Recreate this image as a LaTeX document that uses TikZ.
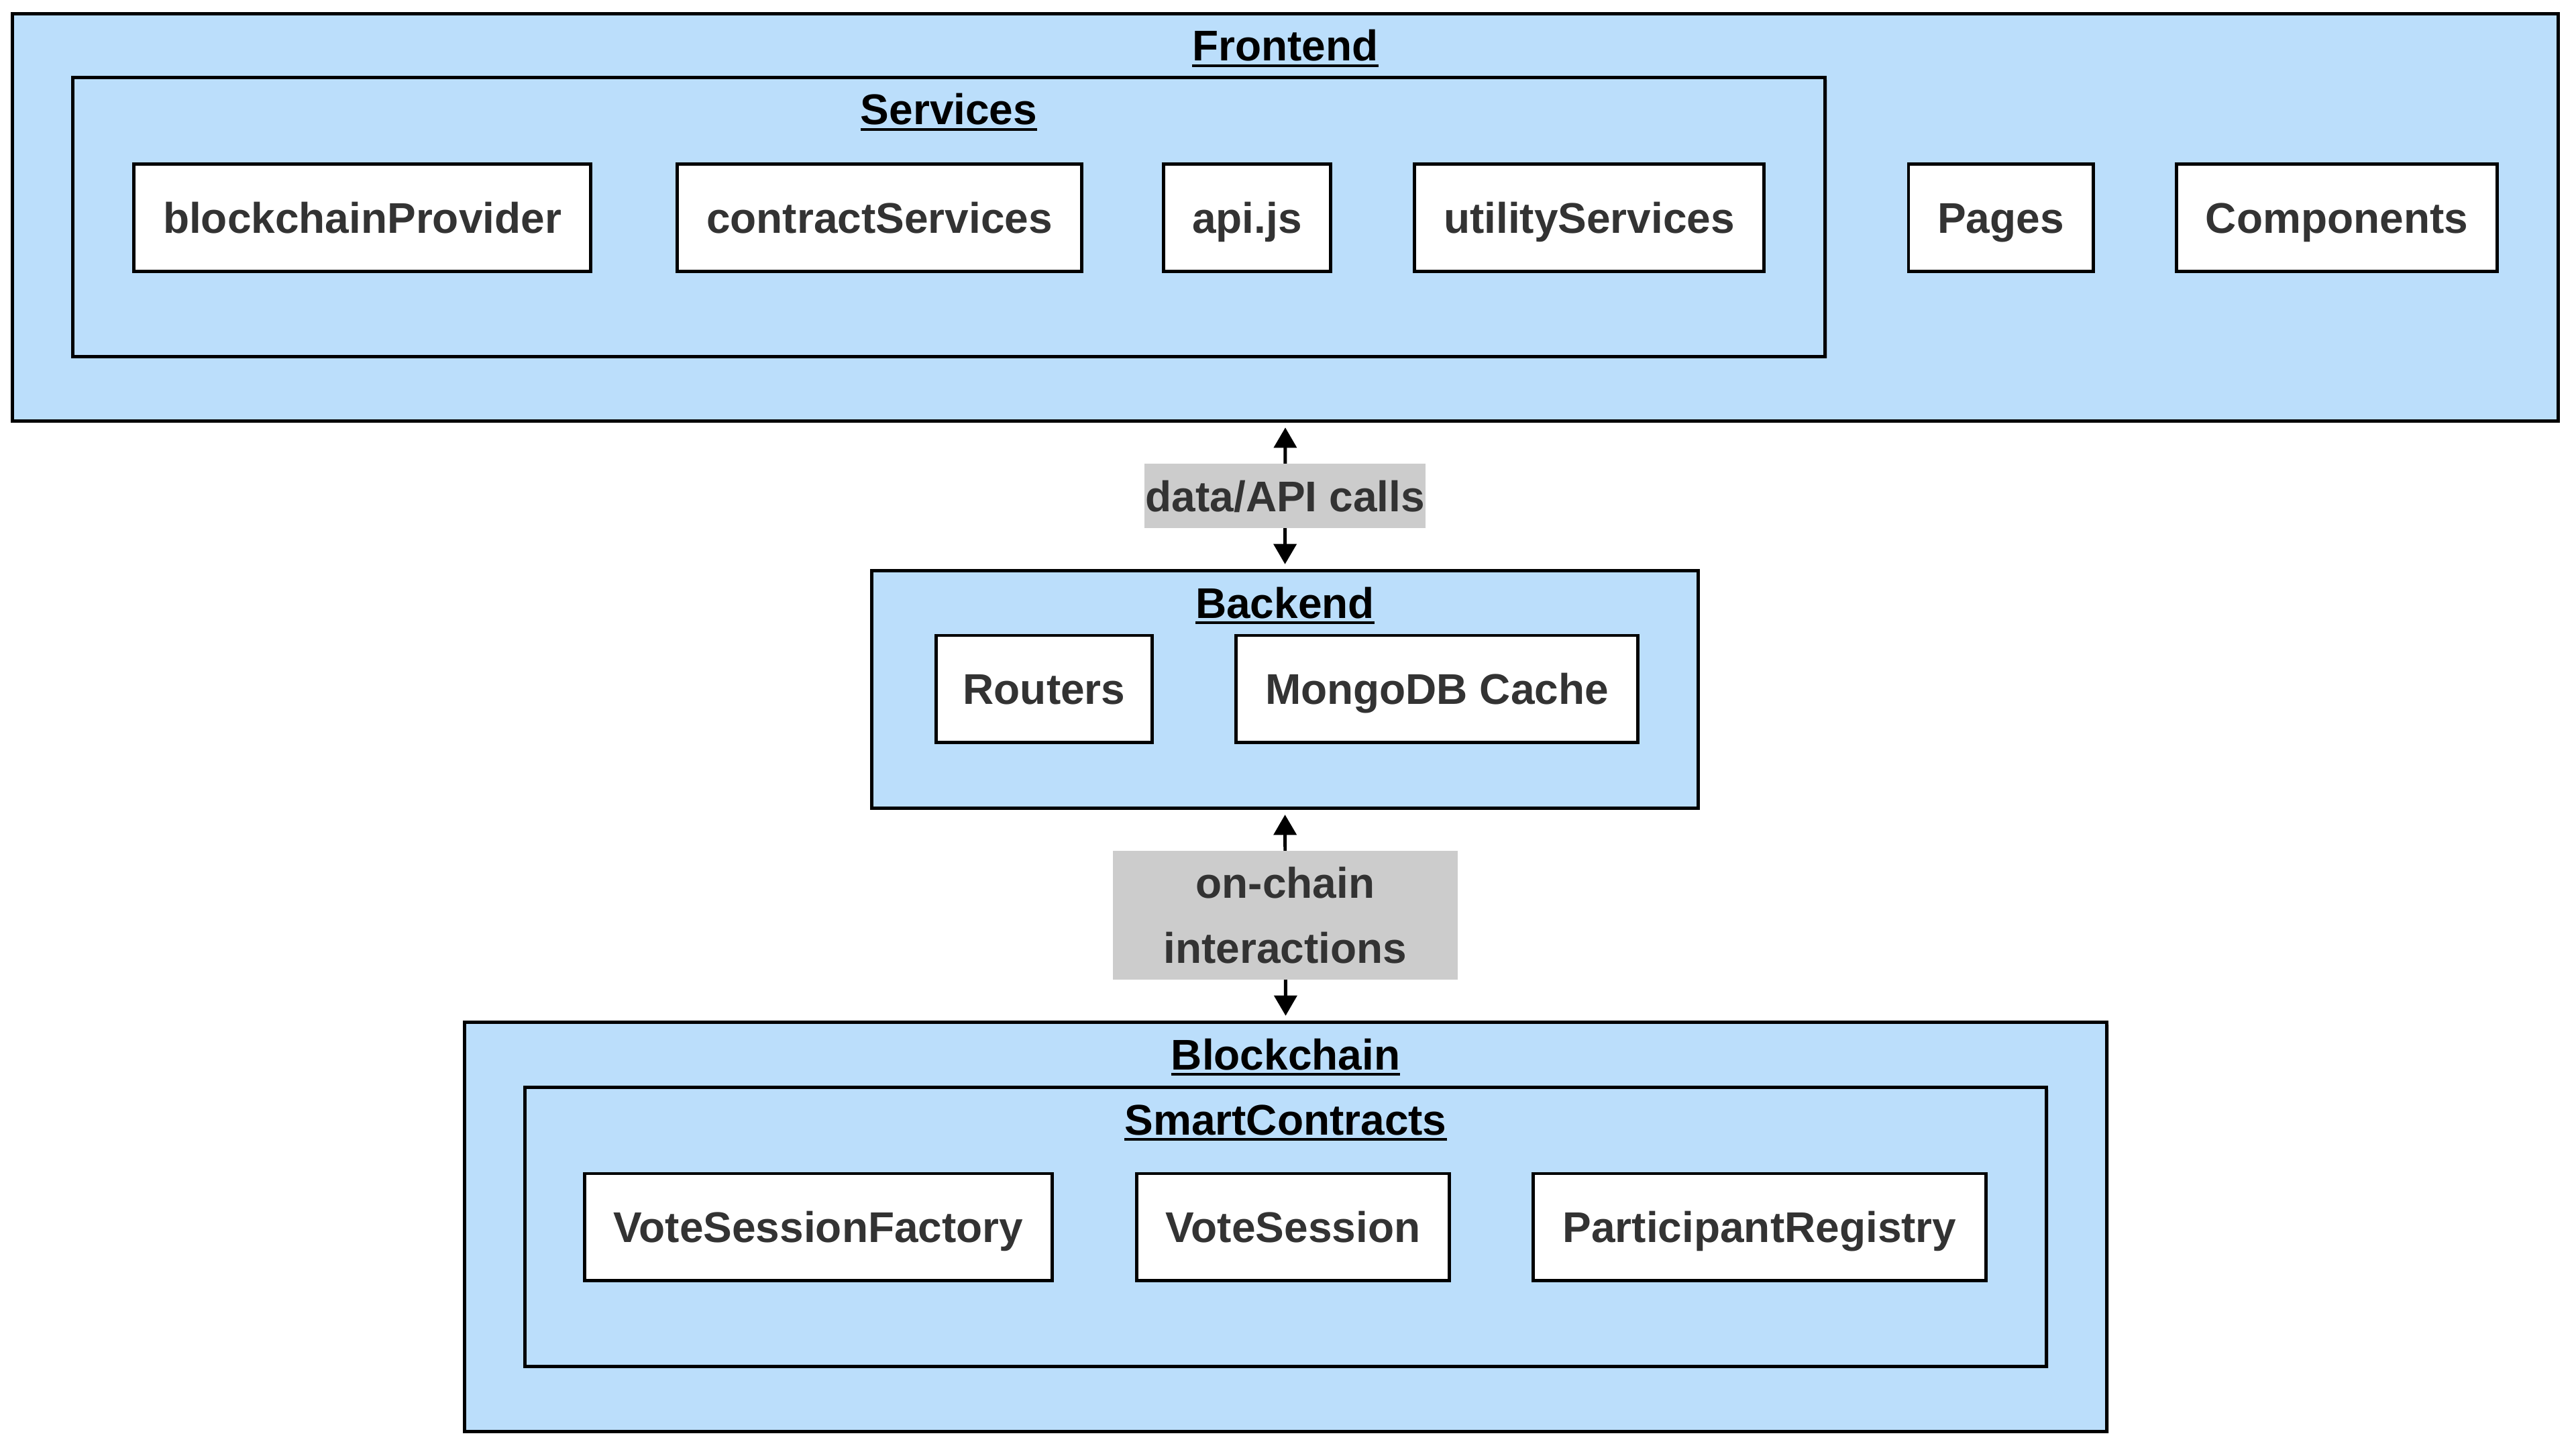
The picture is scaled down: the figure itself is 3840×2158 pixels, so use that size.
\documentclass[tikz,border=0pt]{standalone}
\usepackage{fontspec}
\setmainfont{Liberation Sans}
\usetikzlibrary{arrows.meta,shadows}
\definecolor{boxblue}{HTML}{BBDEFB}
\definecolor{lblgray}{HTML}{CCCCCC}
\definecolor{txtgray}{HTML}{333333}
\newcommand{\ulbox}[1]{\setbox0=\hbox{#1}\rlap{\rule[-0.14em]{\wd0}{0.065em}}\box0}
\begin{document}
\begin{tikzpicture}[x=0.01cm, y=-0.01cm,
  font=\fontsize{18.2pt}{27.6pt}\selectfont\bfseries,
  shd/.style={drop shadow={shadow xshift=0.8pt, shadow yshift=-0.8pt, opacity=0.18, fill=black}},
  container/.style={draw=black, line width=1.4pt, fill=boxblue, shd, inner sep=0pt, outer sep=0pt},
  cbox/.style={draw=black, line width=1.4pt, fill=white, shd, inner sep=0pt, outer sep=0pt,
    text=txtgray, text height=13.3pt, text depth=0pt, minimum height=1.59cm},
  ttl/.style={anchor=base, text=black, inner sep=0pt, outer sep=0pt},
  lbl/.style={fill=lblgray, text=txtgray, inner sep=0pt, outer sep=0pt, align=center},
  conn/.style={line width=1.4pt, {Triangle[width=9.6pt,length=8.6pt]}-{Triangle[width=9.6pt,length=8.6pt]},
    shorten <=0.1cm, shorten >=0.1cm}
]
\useasboundingbox (0,0) rectangle (3840,2158);

% Frontend
\node[container, minimum width=37.92cm, minimum height=6.06cm] (fe) at (1916,324) {};
\node[ttl] (fet) at (1916,91) {\ulbox{Frontend}};
\node[container, minimum width=26.11cm, minimum height=4.15cm] (svc) at (1414.5,323.5) {};
\node[ttl] (svct) at (1414.5,186) {\ulbox{Services}};
\node[cbox, minimum width=6.80cm] (bp) at (540,324.5) {blockchainProvider};
\node[cbox, minimum width=6.02cm] (cs) at (1311,324.5) {contractServices};
\node[cbox, minimum width=2.48cm] (api) at (1859,324.5) {api.js};
\node[cbox, minimum width=5.20cm] (us) at (2369,324.5) {utilityServices};
\node[cbox, minimum width=2.75cm] (pages) at (2982.5,324.5) {Pages};
\node[cbox, minimum width=4.77cm] (comps) at (3483.5,324.5) {Components};

% Backend
\node[container, minimum width=12.31cm, minimum height=3.53cm] (be) at (1915.5,1027.5) {};
\node[ttl] (bet) at (1915.5,921) {\ulbox{Backend}};
\node[cbox, minimum width=3.21cm] (rt) at (1556.5,1026.5) {Routers};
\node[cbox, minimum width=5.98cm] (mdb) at (2142,1026.5) {MongoDB Cache};

% Blockchain
\node[container, minimum width=24.47cm, minimum height=6.09cm] (bc) at (1916.5,1828.5) {};
\node[ttl] (bct) at (1916.5,1594) {\ulbox{Blockchain}};
\node[container, minimum width=22.67cm, minimum height=4.15cm] (sc) at (1916.5,1828.5) {};
\node[ttl] (sct) at (1916.5,1691) {\ulbox{SmartContracts}};
\node[cbox, minimum width=6.96cm] (vsf) at (1220,1828.5) {VoteSessionFactory};
\node[cbox, minimum width=4.65cm] (vs) at (1927.5,1828.5) {VoteSession};
\node[cbox, minimum width=6.74cm] (pr) at (2623,1828.5) {ParticipantRegistry};

% Connectors
\draw[conn] (fe.south) -- node[lbl, minimum width=4.19cm, minimum height=0.96cm, text height=13.3pt, text depth=0pt] (l1) {data/API calls} (be.north);
\draw[conn] (be.south) -- node[lbl, minimum width=5.13cm, minimum height=1.92cm] (l2) {on-chain\\interactions} (bc.north);
\end{tikzpicture}
\end{document}
